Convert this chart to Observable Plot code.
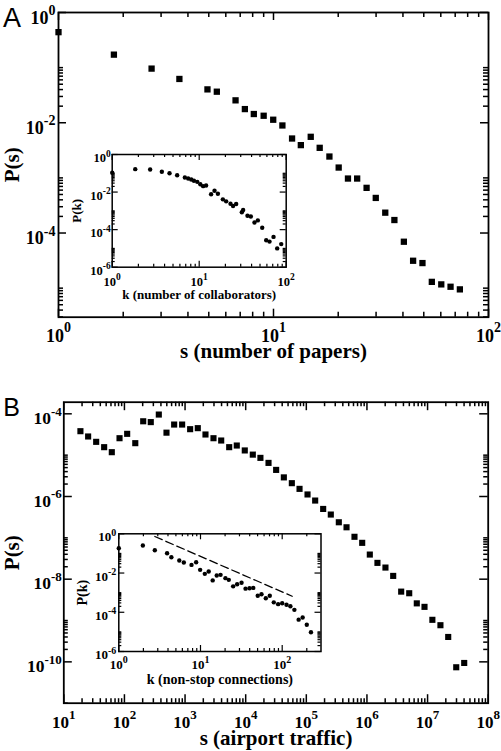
<!DOCTYPE html>
<html><head><meta charset="utf-8">
<script src="https://cdn.jsdelivr.net/npm/d3@7"></script>
<script src="https://cdn.jsdelivr.net/npm/@observablehq/plot@0.6"></script>
<style>
html,body{margin:0;padding:0;background:#fff;}
#wrap{position:relative;width:501px;height:751px;overflow:hidden;background:#fff;}
#wrap svg{position:absolute;left:0;}
</style></head><body><div id="wrap"></div>
<script>
// ---------- Panel A: number of papers ----------
const papersS = [1, 1.81, 2.71, 3.65, 4.93, 5.45, 6.66, 7.36, 8.1, 9.0, 9.97, 11.0, 12.2, 13.4, 14.9, 16.4, 18.2, 20.1, 22.2, 24.5, 27.1, 29.9, 33.1, 36.5, 40.4, 44.6, 49.3, 54.5, 60.3, 66.6, 73.6];
const papersP = [0.44, 0.172, 0.096, 0.0623, 0.0403, 0.0366, 0.0255, 0.0177, 0.0144, 0.0134, 0.01135, 0.00893, 0.00518, 0.00393, 0.00556, 0.00351, 0.00244, 0.00154, 0.000973, 0.000973, 0.00066, 0.000433, 0.000234, 0.000172, 6.95e-5, 3.14e-5, 2.85e-5, 1.30e-5, 1.17e-5, 1.06e-5, 9.5e-6];
// inset A: number of collaborators
const collabK = [1, 1.84, 2.73, 3.72, 4.56, 5.58, 6.84, 7.47, 8.1, 8.7, 9.5, 10.3, 11.1, 12.0, 13.7, 15.0, 16.4, 18.7, 20.4, 22.9, 24.5, 26.6, 30.9, 32, 35.9, 39.2, 43.2, 47.2, 53, 58.9, 64.3, 71.5, 78.8, 87.7];
const collabP = [0.106, 0.166, 0.159, 0.12, 0.1, 0.079, 0.06, 0.053, 0.047, 0.04, 0.035, 0.026, 0.0206, 0.0224, 0.0077, 0.0117, 0.0081, 0.0041, 0.0032, 0.0024, 0.0018, 0.0023, 0.00085, 0.0011, 0.00055, 0.0005, 0.00024, 0.00031, 1.26e-4, 2.7e-5, 2.3e-5, 4.1e-5, 1e-5, 1.7e-5];
// ---------- Panel B: airport traffic ----------
const trafficS = [18.8, 25.2, 34.2, 46.3, 61.9, 83, 111, 151, 204, 272, 369, 494, 661, 895, 1213, 1622, 2172, 2944, 3946, 5346, 7129, 9660, 13100, 17500, 23800, 31800, 42600, 57700, 77300, 104700, 140000, 189700, 253500, 343600, 460600, 623000, 835000, 1.115e6, 1.49e6, 2.02e6, 2.71e6, 3.67e6, 4.98e6, 6.64e6, 8.9e6, 1.2e7, 1.63e7, 2.19e7, 2.97e7, 4.02e7];
const trafficP = [3.8e-5, 2.83e-5, 2.1e-5, 1.56e-5, 1.18e-5, 2.57e-5, 3.28e-5, 1.95e-5, 6.6e-5, 6.3e-5, 9.6e-5, 3.5e-5, 5.5e-5, 5.5e-5, 4.25e-5, 4.5e-5, 3.16e-5, 2.57e-5, 2.26e-5, 1.56e-5, 1.71e-5, 1.3e-5, 1.03e-5, 8.6e-6, 6.5e-6, 4.4e-6, 2.9e-6, 2.1e-6, 1.53e-6, 1.12e-6, 7.98e-7, 5.0e-7, 3.66e-7, 2.38e-7, 1.8e-7, 1.06e-7, 7.57e-8, 3.94e-8, 2.48e-8, 1.91e-8, 1.2e-8, 5e-9, 4.57e-9, 2.6e-9, 2.14e-9, 1.04e-9, 7.7e-10, 4.0e-10, 7.4e-11, 9.4e-11];
// inset B: non-stop connections
const connK = [1, 1.97, 2.76, 3.9, 4.4, 5.5, 6.25, 7.76, 8.85, 9.9, 11.3, 12.6, 14.1, 15.8, 17.6, 20.2, 22.2, 25.1, 28.1, 31.8, 35.6, 39.8, 44.2, 50.2, 55.8, 63, 70.5, 78.9, 89.2, 100, 113, 126, 141, 159, 178, 200, 225];
const connP = [0.184, 0.253, 0.146, 0.102, 0.064, 0.0436, 0.0345, 0.026, 0.0355, 0.0145, 0.0091, 0.012, 0.0042, 0.0075, 0.0081, 0.0055, 0.0045, 0.0021, 0.0027, 0.0032, 0.0016, 0.00167, 0.00175, 0.0007, 0.00083, 0.00052, 0.0007, 0.00032, 0.00026, 0.00029, 0.00024, 0.000203, 0.000133, 4.2e-5, 5.4e-5, 2.3e-5, 9.5e-6];
const guideK = [2.76, 132.5];
const guideP = [0.728, 6.55e-4];

// tick labels
const aXTicks = [1, 10, 100];
const aYTicks = [1, 1e-2, 1e-4];
const bXTicks = [1e1, 1e2, 1e3, 1e4, 1e5, 1e6, 1e7, 1e8];
const bYTicks = [1e-4, 1e-6, 1e-8, 1e-10];
const insAXTicks = [1, 10, 100];
const insBXTicks = [1, 10, 100];
const insYTicks = [1, 1e-2, 1e-4, 1e-6];
const titles = {
  aX: "s (number of papers)", aY: "P(s)", aIX: "k (number of collaborators)", aIY: "P(k)",
  bX: "s (airport traffic)", bY: "P(s)", bIX: "k (non-stop connections)", bIY: "P(k)"
};

const SERIF = "'Liberation Serif', 'Times New Roman', serif";
const SANS = "'Liberation Sans', Arial, sans-serif";
const ctx = document.createElement("canvas").getContext("2d");
function tw(s, size) { ctx.font = `bold ${size}px "Liberation Serif"`; return ctx.measureText(s).width; }
const expStr = v => String(Math.round(Math.log10(v)));
const zip = (a, b) => a.map((v, i) => ({x: v, y: b[i]}));

function minorTicks(exps, ks, dom) {
  const out = [];
  for (const e of exps) for (const k of ks) {
    const v = k * Math.pow(10, e);
    if (v >= dom[0] * 0.999 && v <= dom[1] * 1.001) out.push(v);
  }
  return out;
}

function ticks(G, o) {
  const fw = G.width - G.ml - G.mr, fh = G.height - G.mt - G.mb;
  const s = {stroke: "black", strokeWidth: o.sw};
  return [
    Plot.ruleX(o.xMajor, {x: d => d, insetTop: fh - o.maj, ...s}),
    Plot.ruleX(o.xMajor, {x: d => d, insetBottom: fh - o.maj, ...s}),
    Plot.ruleX(o.xMinor, {x: d => d, insetTop: fh - o.min, ...s}),
    Plot.ruleX(o.xMinor, {x: d => d, insetBottom: fh - o.min, ...s}),
    Plot.ruleY(o.yMajor, {y: d => d, insetRight: fw - o.maj, ...s}),
    Plot.ruleY(o.yMajor, {y: d => d, insetLeft: fw - o.maj, ...s}),
    Plot.ruleY(o.yMinor, {y: d => d, insetRight: fw - o.min, ...s}),
    Plot.ruleY(o.yMinor, {y: d => d, insetLeft: fw - o.min, ...s})
  ];
}

function xLabels(vals, o) {
  const marks = [];
  for (const v of vals) {
    const e = expStr(v), wb = tw("10", o.size), ws = tw(e, o.sup), W = wb + ws;
    const common = {x: d => d, frameAnchor: "bottom", textAnchor: "start", lineAnchor: "bottom", fontWeight: "bold", fontFamily: SERIF, fill: "black"};
    marks.push(Plot.text([v], {...common, text: () => "10", dx: -W / 2, dy: o.dy, fontSize: o.size}));
    marks.push(Plot.text([v], {...common, text: d => expStr(d), dx: -W / 2 + wb, dy: o.dy - o.rise, fontSize: o.sup}));
  }
  return marks;
}
function yLabels(vals, o) {
  const marks = [];
  for (const v of vals) {
    const e = expStr(v), ws = tw(e, o.sup);
    const common = {y: d => d, frameAnchor: "left", textAnchor: "end", lineAnchor: "bottom", fontWeight: "bold", fontFamily: SERIF, fill: "black"};
    marks.push(Plot.text([v], {...common, text: () => "10", dx: -o.gap - ws, dy: o.dy, fontSize: o.size}));
    marks.push(Plot.text([v], {...common, text: d => expStr(d), dx: -o.gap, dy: o.dy - o.rise, fontSize: o.sup}));
  }
  return marks;
}
function titleX(t, dy, size) {
  return Plot.text([t], {frameAnchor: "bottom", text: d => d, textAnchor: "middle", lineAnchor: "bottom", dy, fontSize: size, fontWeight: "bold", fontFamily: SERIF, fill: "black"});
}
function titleY(t, dx, size) {
  return Plot.text([t], {frameAnchor: "left", text: d => d, textAnchor: "middle", lineAnchor: "bottom", rotate: -90, dx, fontSize: size, fontWeight: "bold", fontFamily: SERIF, fill: "black"});
}

function make(G, xDom, yDom, marks, top, bg) {
  const svg = Plot.plot({
    width: G.width, height: G.height,
    marginLeft: G.ml, marginRight: G.mr, marginTop: G.mt, marginBottom: G.mb,
    x: {type: "log", domain: xDom, axis: null},
    y: {type: "log", domain: yDom, axis: null},
    style: {background: bg, overflow: "visible"},
    marks
  });
  svg.style.top = top + "px";
  document.getElementById("wrap").appendChild(svg);
}

const ks = [2, 3, 4, 5, 6, 7, 8, 9];
const ks10 = [2, 3, 4, 5, 6, 7, 8, 9, 10];

// ===== Panel A main =====
{
  const G = {width: 501, height: 375, ml: 58, mr: 13, mt: 12, mb: 58.3};
  const xDom = [1, 100], yDom = [Math.pow(10, -5.527), 1];
  make(G, xDom, yDom, [
    Plot.frame({stroke: "black", strokeWidth: 1.8}),
    ...ticks(G, {xMajor: aXTicks, xMinor: minorTicks([0, 1], ks, xDom), yMajor: aYTicks, yMinor: minorTicks([-2, -4, -6], ks10, yDom), maj: 8, min: 5, sw: 1.5}),
    Plot.dot(zip(papersS, papersP), {x: "x", y: "y", symbol: "square", r: 3.55, fill: "black"}),
    ...xLabels(aXTicks, {size: 18, sup: 14, dy: 24.5, rise: 9.5}),
    ...yLabels(aYTicks, {size: 18, sup: 14, dy: 11, rise: 8.5, gap: 3}),
    titleX(titles.aX, 41, 21),
    titleY(titles.aY, -40, 21),
    Plot.text(["A"], {frameAnchor: "top-left", text: d => d, textAnchor: "start", lineAnchor: "bottom", dx: -55.5, dy: 14, fontSize: 27, fontFamily: SANS, fill: "black"})
  ], 0, "white");
}
// ===== Panel A inset =====
{
  const G = {width: 501, height: 375, ml: 111.7, mr: 215.3, mt: 154, mb: 108.3};
  const xDom = [1, 100], yDom = [1e-6, 1];
  make(G, xDom, yDom, [
    Plot.frame({stroke: "black", strokeWidth: 1.5, fill: "white"}),
    ...ticks(G, {xMajor: insAXTicks, xMinor: minorTicks([0, 1], ks, xDom), yMajor: insYTicks, yMinor: minorTicks([-2, -4, -6], ks10, yDom), maj: 6, min: 3, sw: 1.2}),
    Plot.dot(zip(collabK, collabP), {x: "x", y: "y", r: 2.2, fill: "black"}),
    ...xLabels(insAXTicks, {size: 12.5, sup: 9.5, dy: 18.3, rise: 6}),
    ...yLabels(insYTicks, {size: 12.5, sup: 9.5, dy: 7.5, rise: 5.5, gap: 1.5}),
    titleX(titles.aIX, 31.6, 13),
    titleY(titles.aIY, -31.7, 13)
  ], 0, "transparent");
}
// ===== Panel B main =====
{
  const G = {width: 501, height: 376, ml: 63.3, mr: 13.3, mt: 26.7, mb: 48.3};
  const xDom = [10, 1e8], yDom = [1e-11, Math.pow(10, -3.719)];
  make(G, xDom, yDom, [
    Plot.frame({stroke: "black", strokeWidth: 1.8}),
    ...ticks(G, {xMajor: bXTicks, xMinor: minorTicks([1, 2, 3, 4, 5, 6, 7], ks, xDom), yMajor: bYTicks, yMinor: minorTicks([-4, -6, -8, -10, -12], ks10, yDom), maj: 8.5, min: 4.5, sw: 1.5}),
    Plot.dot(zip(trafficS, trafficP), {x: "x", y: "y", symbol: "square", r: 3.45, fill: "black"}),
    ...xLabels(bXTicks, {size: 17, sup: 13, dy: 24.8, rise: 9}),
    ...yLabels(bYTicks, {size: 17.5, sup: 13, dy: 10.2, rise: 8.3, gap: 2}),
    titleX(titles.bX, 42, 21),
    titleY(titles.bY, -45, 21),
    Plot.text(["B"], {frameAnchor: "top-left", text: d => d, textAnchor: "start", lineAnchor: "bottom", dx: -60.5, dy: 13.5, fontSize: 25, fontFamily: SANS, fill: "black"})
  ], 375, "white");
}
// ===== Panel B inset =====
{
  const G = {width: 501, height: 376, ml: 118.3, mr: 180.5, mt: 158.3, mb: 100};
  const xDom = [1, Math.pow(10, 2.475)], yDom = [1e-6, 1];
  make(G, xDom, yDom, [
    Plot.frame({stroke: "black", strokeWidth: 1.5, fill: "white"}),
    ...ticks(G, {xMajor: insBXTicks, xMinor: minorTicks([0, 1, 2], ks, xDom), yMajor: insYTicks, yMinor: minorTicks([-2, -4, -6], ks10, yDom), maj: 6, min: 3, sw: 1.2}),
    Plot.line(zip(guideK, guideP), {x: "x", y: "y", stroke: "black", strokeWidth: 1.3, strokeDasharray: "8,4"}),
    Plot.dot(zip(connK, connP), {x: "x", y: "y", r: 2.2, fill: "black"}),
    ...xLabels(insBXTicks, {size: 13, sup: 10, dy: 17.3, rise: 6}),
    ...yLabels(insYTicks, {size: 13, sup: 10, dy: 7.5, rise: 5.5, gap: 2.5}),
    titleX(titles.bIX, 32.3, 14),
    titleY(titles.bIY, -31.6, 14)
  ], 375, "transparent");
}
</script></body></html>
